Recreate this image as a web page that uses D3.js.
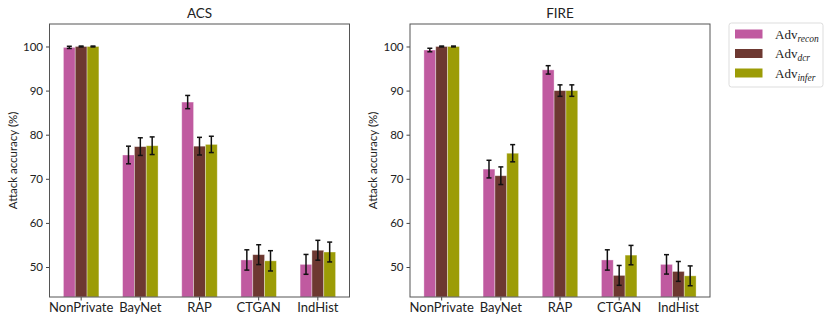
<!DOCTYPE html>
<html>
<head>
<meta charset="utf-8">
<script src="https://cdn.jsdelivr.net/npm/d3@7"></script>
<style>
  body { margin: 0; background: #fff; }
  svg text { font-family: Lato, "Open Sans", sans-serif; fill: #222; }
</style>
</head>
<body>
<svg id="chart"></svg>
<script>
var categories = ["NonPrivate", "BayNet", "RAP", "CTGAN", "IndHist"];
var seriesNames = ["recon", "dcr", "infer"];
var yTicks = [50, 60, 70, 80, 90, 100];

// ACS
var acsRecon = [99.8, 75.4, 87.4, 51.6, 50.6];
var acsReconErr = [0.25, 2.0, 1.5, 2.3, 2.25];
var acsDcr = [100, 77.3, 77.4, 52.8, 53.8];
var acsDcrErr = [0.1, 2.0, 2.0, 2.25, 2.25];
var acsInfer = [100, 77.5, 77.8, 51.4, 53.4];
var acsInferErr = [0.1, 2.0, 1.85, 2.3, 2.25];

// FIRE
var fireRecon = [99.2, 72.2, 94.7, 51.6, 50.6];
var fireReconErr = [0.4, 2.0, 0.95, 2.3, 2.2];
var fireDcr = [100, 70.7, 90.0, 48.1, 49.0];
var fireDcrErr = [0.1, 2.0, 1.3, 2.25, 2.25];
var fireInfer = [100, 75.8, 90.0, 52.7, 48.0];
var fireInferErr = [0.1, 1.95, 1.3, 2.2, 2.25];

var screen = { width: 831, height: 325 };

var svg = d3.select("#chart")
            .attr("width", screen.width)
            .attr("height", screen.height);

var colors = d3.scaleOrdinal()
               .domain(seriesNames)
               .range(["#c05aa0", "#6d3831", "#9c9c06"]);

var yScale = d3.scaleLinear()
               .domain([43.2, 105.1])
               .range([297, 24]);

var drawPanel = function(title, left, values, errors)
{
  var width = 300;

  var xScale = d3.scaleBand()
                 .domain(categories)
                 .range([left, left + width])
                 .paddingInner(0.4)
                 .paddingOuter(0.235);

  var subScale = d3.scaleBand()
                   .domain(seriesNames)
                   .range([0, xScale.bandwidth()]);

  var g = svg.append("g");

  // table of bars built from the arrays
  var rows = [];
  categories.forEach(function(c, i) {
    seriesNames.forEach(function(s, j) {
      rows.push({cat: c, series: s, value: values[j][i], err: errors[j][i]});
    });
  });

  g.append("g")
   .selectAll("rect")
   .data(rows)
   .enter()
   .append("rect")
   .attr("x", function(d) {return xScale(d.cat) + subScale(d.series);})
   .attr("y", function(d) {return yScale(d.value);})
   .attr("width", subScale.bandwidth())
   .attr("height", function(d) {return yScale.range()[0] - yScale(d.value);})
   .attr("fill", function(d) {return colors(d.series);})
   .attr("stroke", "#fff")
   .attr("stroke-opacity", 0.45)
   .attr("stroke-width", 0.8);

  // error bars
  var eb = g.append("g")
            .selectAll("g")
            .data(rows)
            .enter()
            .append("g")
            .attr("stroke", "#111")
            .attr("stroke-width", 1.5);

  var cx = function(d) {return xScale(d.cat) + subScale(d.series) + subScale.bandwidth() / 2;};

  eb.append("line")
    .attr("x1", cx).attr("x2", cx)
    .attr("y1", function(d) {return yScale(d.value + d.err);})
    .attr("y2", function(d) {return yScale(d.value - d.err);});
  eb.append("line")
    .attr("x1", function(d) {return cx(d) - 2.5;})
    .attr("x2", function(d) {return cx(d) + 2.5;})
    .attr("y1", function(d) {return yScale(d.value + d.err);})
    .attr("y2", function(d) {return yScale(d.value + d.err);});
  eb.append("line")
    .attr("x1", function(d) {return cx(d) - 2.5;})
    .attr("x2", function(d) {return cx(d) + 2.5;})
    .attr("y1", function(d) {return yScale(d.value - d.err);})
    .attr("y2", function(d) {return yScale(d.value - d.err);});

  // y-axis
  var yAxis = d3.axisLeft(yScale)
                .tickValues(yTicks)
                .tickSize(3.5)
                .tickPadding(3);
  var ya = g.append("g")
            .attr("transform", "translate(" + left + ",0)")
            .call(yAxis);
  ya.select(".domain").remove();
  ya.selectAll("line").attr("stroke", "#444");
  ya.selectAll("text").style("font-size", "11.5px").attr("fill", "#222");

  // x-axis
  var xAxis = d3.axisBottom(xScale).tickSize(3.5).tickPadding(2);
  var xa = g.append("g")
            .attr("transform", "translate(0," + yScale.range()[0] + ")")
            .call(xAxis);
  xa.select(".domain").remove();
  xa.selectAll("line").attr("stroke", "#444");
  xa.selectAll("text").style("font-size", "13px").attr("fill", "#222");

  // frame
  g.append("rect")
   .attr("x", left)
   .attr("y", yScale.range()[1])
   .attr("width", width)
   .attr("height", yScale.range()[0] - yScale.range()[1])
   .attr("fill", "none")
   .attr("stroke", "#555")
   .attr("stroke-width", 1);

  g.append("text")
   .attr("x", left + width / 2)
   .attr("y", 18)
   .attr("text-anchor", "middle")
   .style("font-size", "13.5px")
   .text(title);

  g.append("text")
   .attr("transform", "translate(" + (left - 33) + "," + ((yScale.range()[0] + yScale.range()[1]) / 2) + ") rotate(-90)")
   .attr("text-anchor", "middle")
   .style("font-size", "11.5px")
   .text("Attack accuracy (%)");
}

drawPanel("ACS", 49.5, [acsRecon, acsDcr, acsInfer], [acsReconErr, acsDcrErr, acsInferErr]);
drawPanel("FIRE", 410, [fireRecon, fireDcr, fireInfer], [fireReconErr, fireDcrErr, fireInferErr]);

// legend
var legend = svg.append("g").attr("transform", "translate(729,23)");
legend.append("rect")
      .attr("width", 94).attr("height", 64)
      .attr("rx", 2.5)
      .attr("fill", "#fff")
      .attr("stroke", "#ddd");

var items = legend.selectAll("g.item")
                  .data(seriesNames)
                  .enter()
                  .append("g")
                  .attr("transform", function(d, i) {return "translate(6," + (6.5 + i * 19.5) + ")";});
items.append("rect")
     .attr("width", 27.5).attr("height", 9)
     .attr("fill", function(d) {return colors(d);});
var lt = items.append("text")
              .attr("x", 40).attr("y", 9)
              .style("font-family", "'Liberation Serif', 'DejaVu Serif', serif")
              .style("font-size", "13px");
lt.append("tspan").text("Adv");
lt.append("tspan")
  .attr("dy", 3)
  .style("font-size", "9.5px")
  .style("font-style", "italic")
  .text(function(d) {return d;});
</script>
</body>
</html>
